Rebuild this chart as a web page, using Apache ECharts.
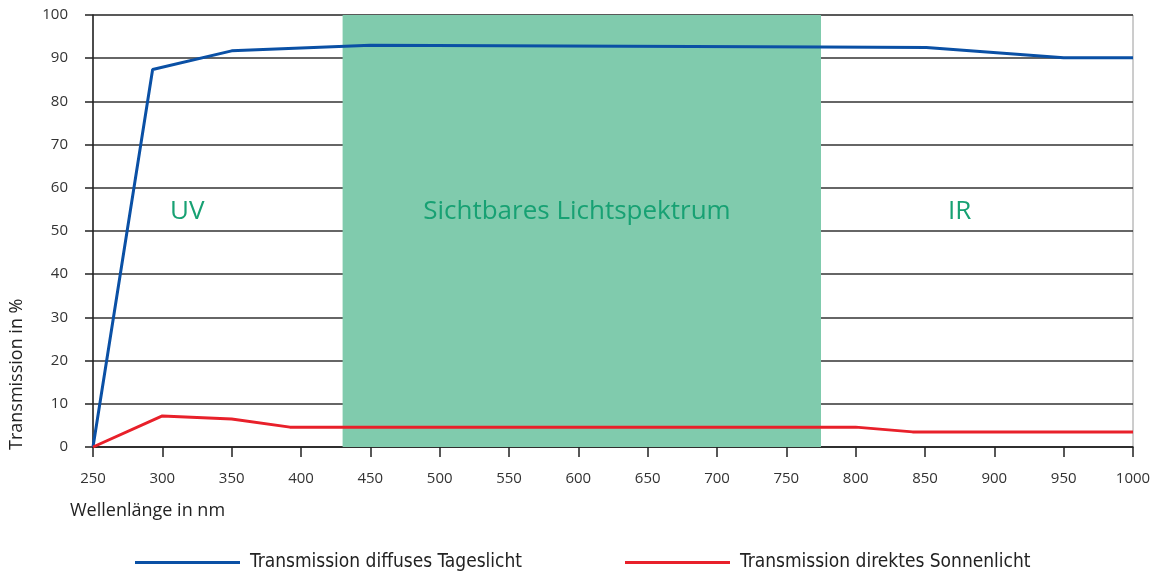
<!DOCTYPE html>
<html><head><meta charset="utf-8">
<script src="https://cdn.jsdelivr.net/npm/echarts@6/dist/echarts.min.js"></script>
<style>html,body{margin:0;padding:0;background:#fff}#c{width:1155px;height:571px}</style>
</head><body><div id="c"></div>
<script>
const xTicks = [250,300,350,400,450,500,550,600,650,700,750,800,850,900,950,1000];
const yTicks = [0,10,20,30,40,50,60,70,80,90,100];
const diffusNm  = [250, 293, 350, 450, 775, 851, 950, 1000];
const diffusVal = [0, 87.4, 91.7, 93.0, 92.6, 92.5, 90.1, 90.1];
const direktNm  = [250, 300, 350, 392, 800, 841, 1000];
const direktVal = [0, 7.2, 6.5, 4.6, 4.6, 3.5, 3.5];
const visibleBand = [430, 775];
const bandLabels = [
  {name:'UV', x:318, y:54.5},
  {name:'Sichtbares Lichtspektrum', x:599, y:54.5},
  {name:'IR', x:875, y:54.5}
];
const seriesNames = ['Transmission diffuses Tageslicht','Transmission direktes Sonnenlicht'];

const font = '"Open Sans","Noto Sans",sans-serif';
const legFont = '"Liberation Sans Narrow","DejaVu Sans Condensed",sans-serif';
const chart = echarts.init(document.getElementById('c'));
chart.setOption({
  animation:false,
  grid:{left:93,right:22,top:15,bottom:124,show:true,borderColor:'#9a9a9a',borderWidth:1},
  xAxis:{type:'value',min:250,max:1000,interval:50,
    axisLine:{lineStyle:{color:'#222',width:1.5}},
    axisTick:{show:true,length:10,lineStyle:{color:'#222',width:1.5}},
    axisLabel:{color:'#333',fontSize:15,fontFamily:font,margin:24,formatter:v=>String(v)},
    splitLine:{show:false}},
  yAxis:{type:'value',min:0,max:100,interval:10,
    axisLine:{show:true,lineStyle:{color:'#222',width:1.5}},
    axisTick:{show:true,length:8,lineStyle:{color:'#222',width:1.5}},
    axisLabel:{color:'#333',fontSize:15,fontFamily:font,margin:25,formatter:v=>String(v)},
    splitLine:{lineStyle:{color:'#333',width:1.5}}},
  legend:[
    {data:[{name:seriesNames[0],icon:'rect'}],left:130,top:548,itemWidth:105,itemHeight:3,itemGap:10,
     textStyle:{fontSize:19,color:'#222',fontFamily:legFont,padding:[0,0,0,5]}},
    {data:[{name:seriesNames[1],icon:'rect'}],left:620,top:548,itemWidth:105,itemHeight:3,itemGap:10,
     textStyle:{fontSize:19,color:'#222',fontFamily:legFont,padding:[0,0,0,5]}}
  ],
  graphic:[
    {type:'text',left:70,top:502,style:{text:'Wellenlänge in nm',fontSize:18,fill:'#222',fontFamily:font}},
    {type:'text',x:8,y:450,rotation:Math.PI/2,style:{text:'Transmission in %',fontSize:18,fill:'#222',fontFamily:font,align:'left',verticalAlign:'top'}}
  ],
  series:[
    {name:seriesNames[0],type:'line',symbol:'none',z:5,
     lineStyle:{color:'#0a50a5',width:3},itemStyle:{color:'#0a50a5'},
     data:diffusNm.map((x,i)=>[x,diffusVal[i]]),
     markArea:{silent:true,itemStyle:{color:'#80cbad'},label:{show:false},
       data:[[{xAxis:visibleBand[0]},{xAxis:visibleBand[1]}]]},
     markPoint:{silent:true,symbol:'circle',symbolSize:1,itemStyle:{color:'rgba(0,0,0,0)'},
       label:{show:true,position:'inside',color:'#17a173',fontSize:26,fontFamily:font,formatter:p=>p.name},
       data:bandLabels.map(b=>({name:b.name,coord:[b.x,b.y]}))}
    },
    {name:seriesNames[1],type:'line',symbol:'none',z:5,
     lineStyle:{color:'#e8202a',width:3},itemStyle:{color:'#e8202a'},
     data:direktNm.map((x,i)=>[x,direktVal[i]])}
  ]
});
</script></body></html>
